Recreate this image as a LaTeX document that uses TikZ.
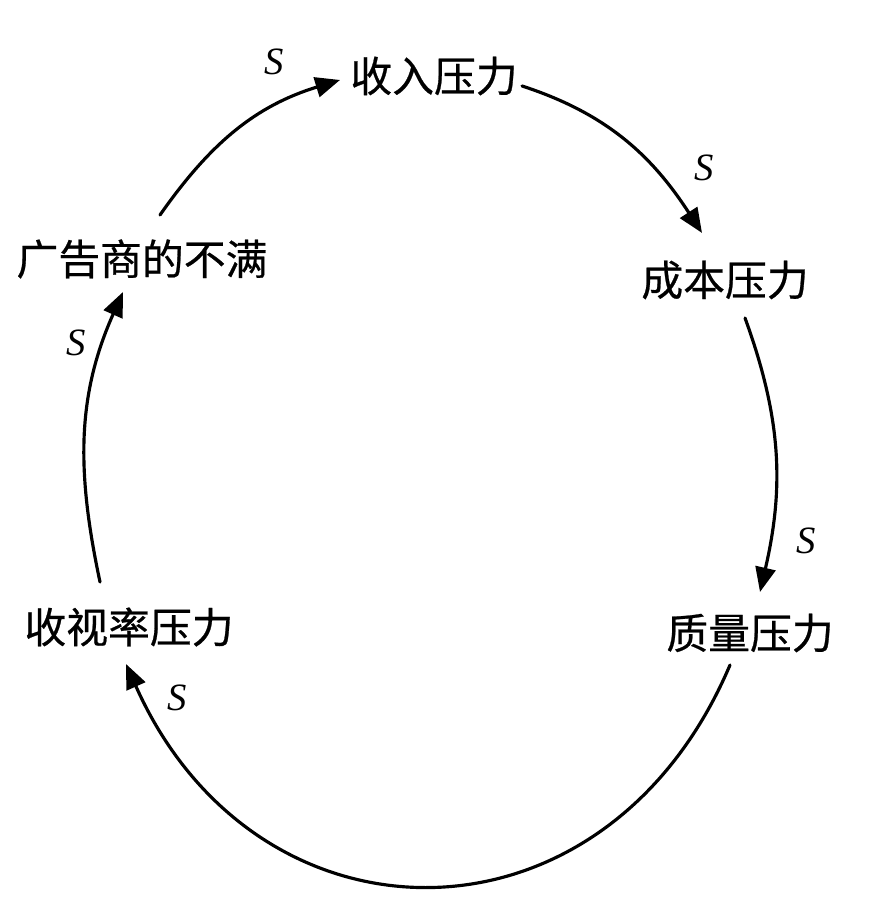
\documentclass[tikz,border=0pt]{standalone}
\usepackage{fontspec}
\setmainfont{Liberation Serif}
\newfontfamily\cjk[FakeBold=0.6]{Noto Sans CJK SC}
\usetikzlibrary{arrows.meta}

\begin{document}
\begin{tikzpicture}[x=0.02cm,y=0.02cm,>={Triangle[length=14pt,width=11.5pt]},
  line cap=round,line join=round,
  factor/.style={font=\cjk\fontsize{23.8}{28}\selectfont,inner sep=0pt},
  slabel/.style={font=\fontsize{22}{24}\selectfont\itshape,inner sep=0pt},
  link/.style={->,line width=1.8pt}]
 \useasboundingbox (0,0) rectangle (892,912);
 % the five pressures of the loop
 \node[factor] (rev) at (434,836) {收入压力};
 \node[factor] (cost) at (725,632) {成本压力};
 \node[factor] (qual) at (750,279) {质量压力};
 \node[factor] (view) at (129,285) {收视率压力};
 \node[factor] (ad) at (142,653) {广告商的不满};
 % links, clockwise
 \draw[link] ([shift={(18,44)}]ad.center) to[out=55,in=197]
  ([shift={(-94,-4)}]rev.center);
 \draw[link] ([shift={(88,-10)}]rev.center) to[out=-18,in=123]
  ([shift={(-23,47)}]cost.center);
 \draw[link] ([shift={(20,-38)}]cost.center) to[out=-70,in=77]
  ([shift={(10,41)}]qual.center);
 \draw[link] ([shift={(-20,-32)}]qual.center) to[out=-113,in=-66,looseness=1.36]
  ([shift={(-3,-37)}]view.center);
 \draw[link] ([shift={(-29,45)}]view.center) to[out=102,in=246]
  ([shift={(-19,-33)}]ad.center);
 % signs
 \node[slabel] (s1) at (274,850) {S};
 \node[slabel] (s2) at (704,744) {S};
 \node[slabel] (s3) at (76,569) {S};
 \node[slabel] (s4) at (806,371) {S};
 \node[slabel] (s5) at (177,214) {S};
\end{tikzpicture}
\end{document}
